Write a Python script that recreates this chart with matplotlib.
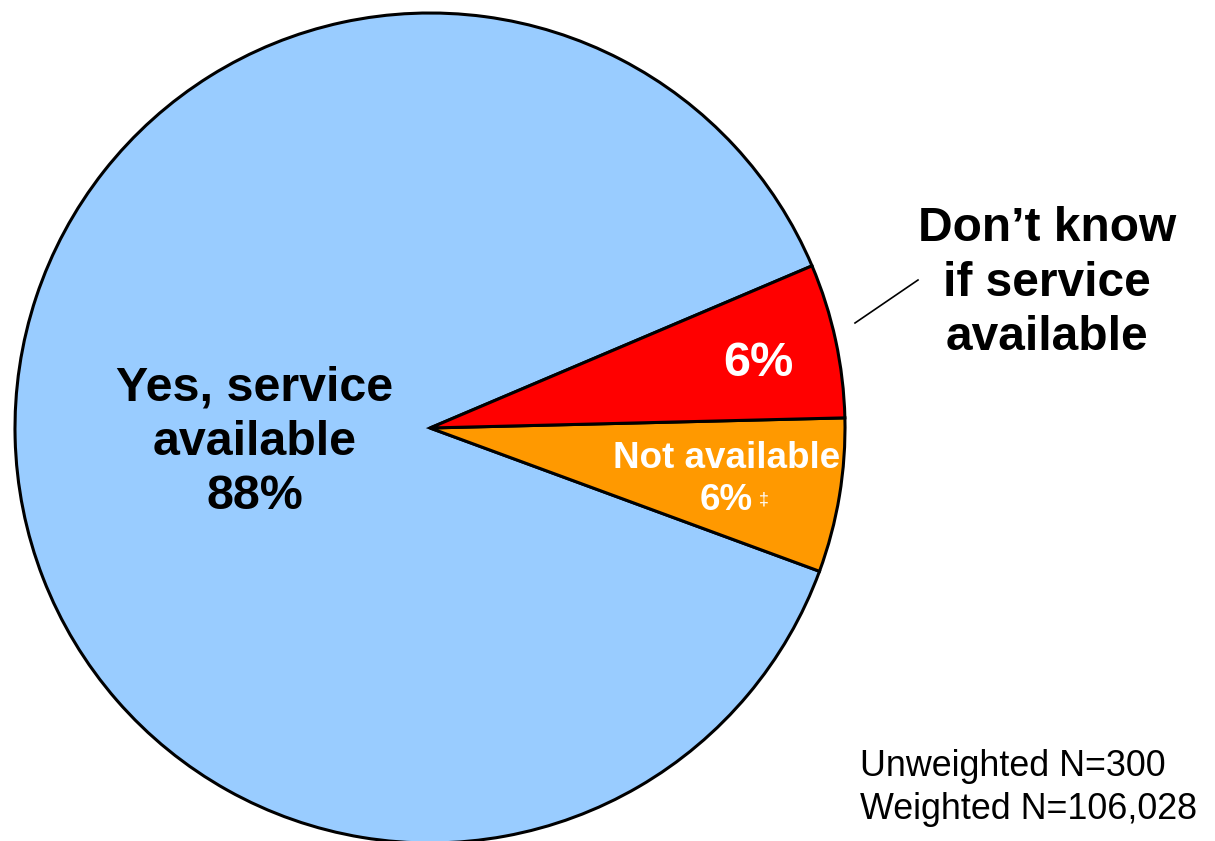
import matplotlib
matplotlib.use('Agg')
import matplotlib.pyplot as plt

plt.rcParams['font.family'] = ['Liberation Sans', 'DejaVu Sans']

# data
labels = ['Yes, service available', 'Not available', 'Don’t know if service available']
values = [88, 6, 6]
colors = ['#99ccff', '#ff9900', '#ff0000']

fig = plt.figure(figsize=(12.15, 8.41), dpi=100)
ax = fig.add_axes([0, 0, 1, 1])

# pie in pixel coords (y up)
ax.pie(values, colors=colors, startangle=23.0, counterclock=True,
       center=(430, 413), radius=415,
       wedgeprops=dict(edgecolor='black', linewidth=2.2), frame=True)
ax.set_xlim(0, 1215)
ax.set_ylim(0, 841)
ax.set_aspect('equal')
ax.axis('off')

ax.text(255, 841 - 442, 'Yes, service\navailable\n' + str(values[0]) + '%',
        ha='center', va='center', fontsize=34.8, fontweight='bold', linespacing=1.26)
ax.text(758, 841 - 363, str(values[2]) + '%', ha='center', va='center',
        fontsize=35, fontweight='bold', color='white')
ax.text(1047, 841 - 283, 'Don’t know\nif service\navailable', ha='center', va='center',
        fontsize=34.5, fontweight='bold', linespacing=1.28)
ax.plot([855, 918], [841 - 323, 841 - 280], color='black', linewidth=1.2)

ax.text(727, 841 - 458, 'Not available', ha='center', va='center',
        fontsize=26.5, fontweight='bold', color='white')
ax.text(726, 841 - 500, str(values[1]) + '%', ha='center', va='center',
        fontsize=26.5, fontweight='bold', color='white')
ax.text(759, 841 - 500, '‡', ha='left', va='center', fontsize=13, color='white')

ax.text(860, 841 - 788, 'Unweighted N=300\nWeighted N=106,028', ha='left', va='center',
        fontsize=25.8, linespacing=1.3)

fig.savefig('out.png', dpi=100)
